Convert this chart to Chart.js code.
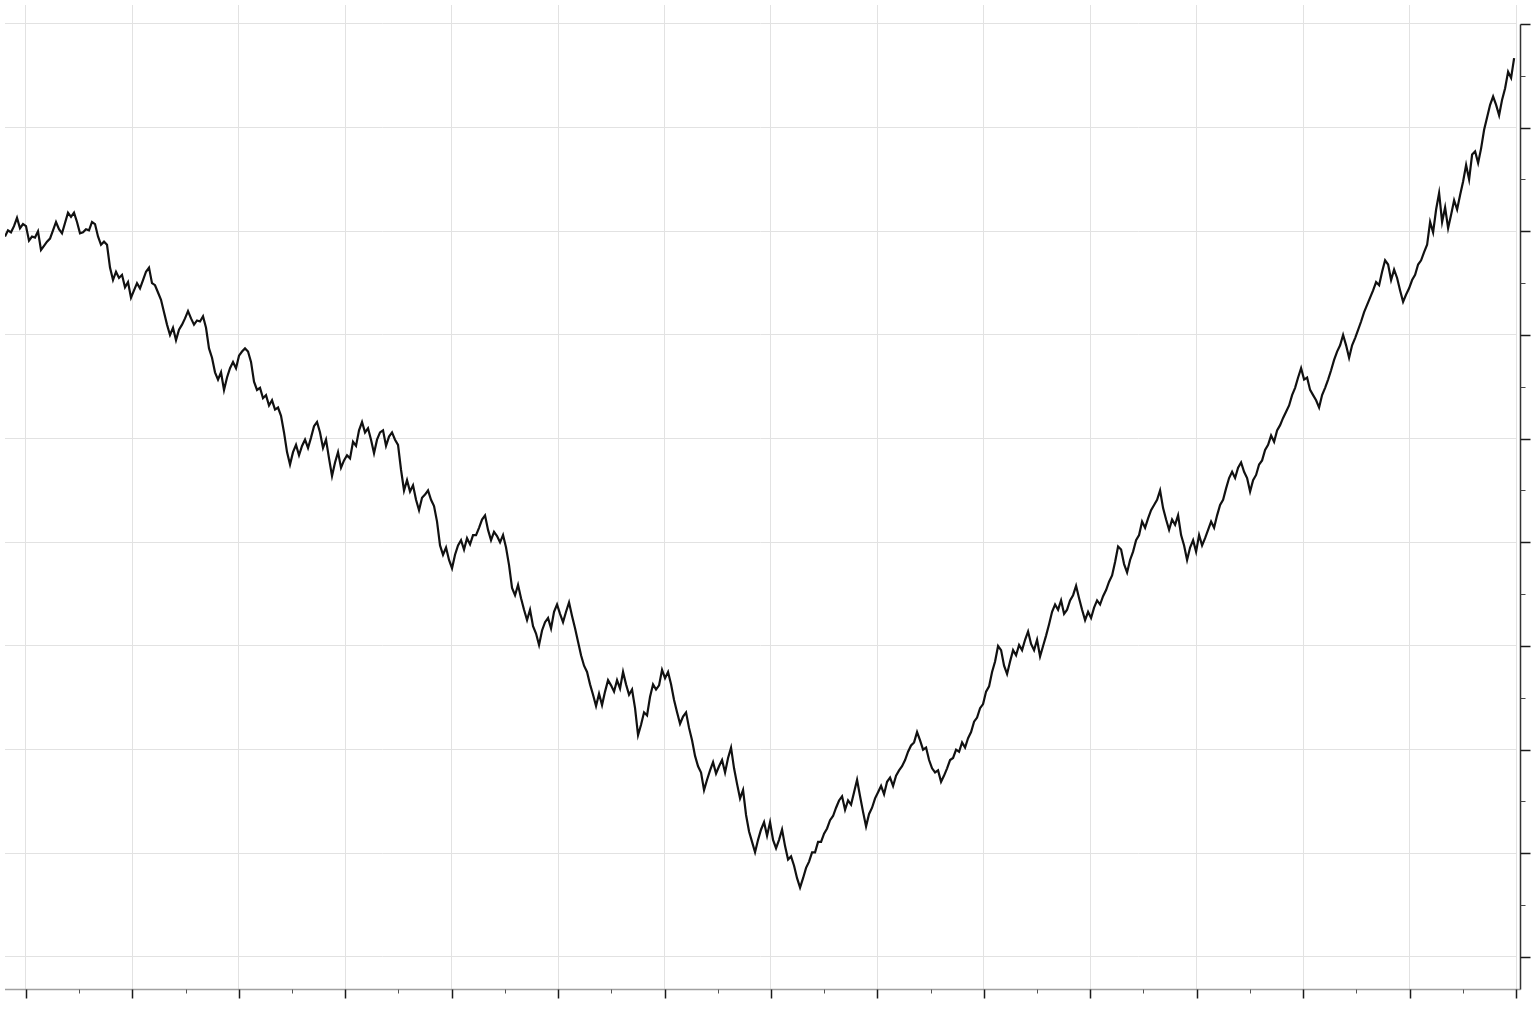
<!DOCTYPE html>
<html>
<head>
<meta charset="utf-8">
<script src="https://cdn.jsdelivr.net/npm/chart.js@4/dist/chart.umd.min.js"></script>
<style>
  html, body { margin: 0; padding: 0; background: #ffffff; }
  #wrap { width: 1536px; height: 1024px; }
</style>
</head>
<body>
<div id="wrap"><canvas id="c" width="1536" height="1024"></canvas></div>
<script>
// ---- data ----
const timeStart = -1.973;   // first sample time (axis units)
const timeStep = 0.2819;    // spacing between samples (axis units)
const walkValues = [
  69.5,70.1,69.9,70.5,71.3,70.3,70.7,70.5,69.1,69.5,69.4,70.0,68.2,68.6,69.0,69.3,70.1,70.9,70.2,69.8,
  70.8,71.8,71.4,71.8,70.9,69.8,69.9,70.2,70.1,70.9,70.7,69.5,68.7,69.0,68.7,66.5,65.3,66.1,65.5,65.8,
  64.6,65.1,63.6,64.3,65.0,64.5,65.3,66.1,66.5,65.0,64.8,64.1,63.4,62.2,61.0,60.0,60.7,59.5,60.5,61.0,
  61.6,62.3,61.6,61.0,61.4,61.3,61.8,60.7,58.7,57.8,56.4,55.7,56.4,54.7,55.9,56.8,57.4,56.8,58.0,58.4,
  58.7,58.4,57.4,55.5,54.7,54.9,53.9,54.2,53.2,53.7,52.8,53.0,52.2,50.6,48.7,47.5,48.7,49.4,48.4,49.3,
  49.9,49.1,50.1,51.2,51.6,50.6,49.1,49.9,48.1,46.4,47.7,48.7,47.2,47.9,48.4,48.1,49.7,49.3,50.8,51.6,
  50.6,51.0,49.9,48.6,49.9,50.6,50.8,49.3,50.2,50.6,49.9,49.4,47.0,45.0,46.0,44.9,45.5,44.1,43.1,44.3,
  44.6,45.0,44.1,43.5,42.0,39.7,38.8,39.5,38.3,37.5,38.8,39.7,40.2,39.3,40.4,39.8,40.7,40.7,41.4,42.2,
  42.6,41.2,40.2,41.0,40.6,40.0,40.7,39.5,37.8,35.6,34.9,35.9,34.6,33.5,32.5,33.5,31.9,31.2,30.1,31.5,
  32.3,32.7,31.7,33.3,34.0,33.1,32.3,33.3,34.2,32.9,31.7,30.4,29.1,28.1,27.5,26.3,25.3,24.2,25.4,24.3,
  25.6,26.7,26.2,25.6,26.7,25.9,27.5,26.3,25.3,25.8,24.0,21.4,22.4,23.6,23.3,25.1,26.3,25.8,26.2,27.7,
  26.9,27.5,26.3,24.8,23.6,22.5,23.2,23.6,22.1,20.9,19.4,18.4,17.8,16.1,17.1,18.0,18.8,17.7,18.4,19.0,
  17.8,19.2,20.2,18.2,16.7,15.3,16.1,13.7,12.1,11.1,10.1,11.3,12.3,13.0,11.7,13.0,11.3,10.5,11.3,12.3,
  10.7,9.4,9.7,8.8,7.6,6.7,7.6,8.6,9.2,10.1,10.1,11.1,11.1,11.9,12.4,13.2,13.6,14.4,15.1,15.5,
  14.2,15.1,14.7,15.9,17.1,15.5,14.0,12.6,13.8,14.4,15.3,15.9,16.5,15.7,16.9,17.3,16.5,17.5,18.0,18.4,
  19.0,19.8,20.4,20.7,21.7,20.9,20.0,20.2,19.0,18.2,17.8,18.0,16.9,17.5,18.2,19.0,19.2,20.0,19.8,20.7,
  20.2,21.1,21.7,22.7,23.1,24.0,24.4,25.6,26.1,27.5,28.5,30.0,29.6,28.1,27.3,28.5,29.6,29.1,30.1,29.6,
  30.6,31.4,30.2,29.6,30.6,29.0,30.0,31.0,32.1,33.3,34.0,33.5,34.4,33.1,33.5,34.4,34.9,35.8,34.6,33.5,
  32.5,33.3,32.7,33.7,34.4,34.0,34.8,35.4,36.2,36.8,38.1,39.6,39.3,37.9,37.1,38.3,39.1,40.2,40.7,42.0,
  41.4,42.3,43.1,43.6,44.1,45.0,43.3,42.2,41.2,42.2,41.7,42.6,40.7,39.7,38.3,39.5,40.2,39.1,40.7,39.7,
  40.4,41.2,42.0,41.4,42.6,43.6,44.1,45.2,46.2,46.8,46.2,47.2,47.7,46.8,46.2,44.9,46.0,46.5,47.5,47.9,
  48.9,49.4,50.3,49.7,50.8,51.3,52.0,52.6,53.2,54.2,54.9,55.9,56.8,55.7,55.9,54.7,54.2,53.7,53.0,54.2,
  54.9,55.7,56.6,57.6,58.4,59.0,60.0,59.0,57.8,59.0,59.7,60.5,61.3,62.2,62.9,63.6,64.3,65.1,64.8,66.1,
  67.2,66.8,65.3,66.3,65.5,64.3,63.2,63.9,64.5,65.3,65.8,66.8,67.2,68.0,68.7,70.9,69.9,72.1,73.7,70.9,
  72.3,70.3,71.6,73.0,72.1,73.5,74.8,76.4,75.0,77.4,77.7,76.6,78.0,79.8,81.0,82.2,83.0,82.2,81.2,82.7,
  83.8,85.4,84.8,86.7
];
const xMajorTicks = [0,10,20,30,40,50,60,70,80,90,100,110,120,130,140];
const xMinorTicks = [5,15,25,35,45,55,65,75,85,95,105,115,125,135];
const yMajorTicks = [0,10,20,30,40,50,60,70,80,90];
const yMinorTicks = [5,15,25,35,45,55,65,75,85];

const points = walkValues.map((v, i) => ({ x: timeStart + i * timeStep, y: v }));

const axisPlugin = {
  id: 'axisMarks',
  afterDraw(chart) {
    const ctx = chart.ctx;
    const xs = chart.scales.x, ys = chart.scales.y;
    const area = chart.chartArea;
    const bottom = Math.round(area.bottom) + 0.5;
    const yAxisX = Math.round(area.right) + 4.5;
    ctx.save();
    // x axis line
    ctx.strokeStyle = '#a0a0a0';
    ctx.lineWidth = 1.5;
    ctx.beginPath();
    ctx.moveTo(area.left, bottom);
    ctx.lineTo(yAxisX, bottom);
    ctx.stroke();
    // x ticks
    ctx.strokeStyle = '#1a1a1a';
    ctx.lineWidth = 1.5;
    xMajorTicks.forEach(v => {
      const px = Math.round(xs.getPixelForValue(v)) + 0.5;
      ctx.beginPath(); ctx.moveTo(px, bottom); ctx.lineTo(px, bottom + 9); ctx.stroke();
    });
    ctx.strokeStyle = '#555';
    ctx.lineWidth = 1;
    xMinorTicks.forEach(v => {
      const px = Math.round(xs.getPixelForValue(v)) + 0.5;
      ctx.beginPath(); ctx.moveTo(px, bottom); ctx.lineTo(px, bottom + 4); ctx.stroke();
    });
    // y axis line
    ctx.strokeStyle = '#333';
    ctx.lineWidth = 1.5;
    const topY = Math.round(ys.getPixelForValue(yMajorTicks[yMajorTicks.length - 1])) + 0.5;
    ctx.beginPath(); ctx.moveTo(yAxisX, topY); ctx.lineTo(yAxisX, bottom); ctx.stroke();
    // y ticks
    ctx.strokeStyle = '#1a1a1a';
    yMajorTicks.forEach(v => {
      const py = Math.round(ys.getPixelForValue(v)) + 0.5;
      ctx.beginPath(); ctx.moveTo(yAxisX, py); ctx.lineTo(yAxisX + 10, py); ctx.stroke();
    });
    ctx.strokeStyle = '#444';
    ctx.lineWidth = 1;
    yMinorTicks.forEach(v => {
      const py = Math.round(ys.getPixelForValue(v)) + 0.5;
      ctx.beginPath(); ctx.moveTo(yAxisX, py); ctx.lineTo(yAxisX + 5, py); ctx.stroke();
    });
    ctx.restore();
  }
};

new Chart(document.getElementById('c'), {
  type: 'line',
  data: {
    datasets: [{
      data: points,
      borderColor: '#111111',
      borderWidth: 2.2,
      pointRadius: 0,
      tension: 0,
      fill: false
    }]
  },
  options: {
    responsive: false,
    devicePixelRatio: 1,
    animation: false,
    layout: { padding: { left: 5, top: 5, right: 20, bottom: 35 } },
    plugins: { legend: { display: false }, tooltip: { enabled: false } },
    scales: {
      x: {
        type: 'linear',
        min: -1.973,
        max: 140,
        ticks: { display: false, stepSize: 10, includeBounds: false },
        grid: { color: '#e2e2e2', lineWidth: 1, drawTicks: false },
        border: { display: false }
      },
      y: {
        type: 'linear',
        position: 'right',
        min: -3.087,
        max: 91.83,
        ticks: { display: false, stepSize: 10, includeBounds: false },
        grid: { color: '#e2e2e2', lineWidth: 1, drawTicks: false },
        border: { display: false }
      }
    }
  },
  plugins: [axisPlugin]
});
</script>
</body>
</html>
